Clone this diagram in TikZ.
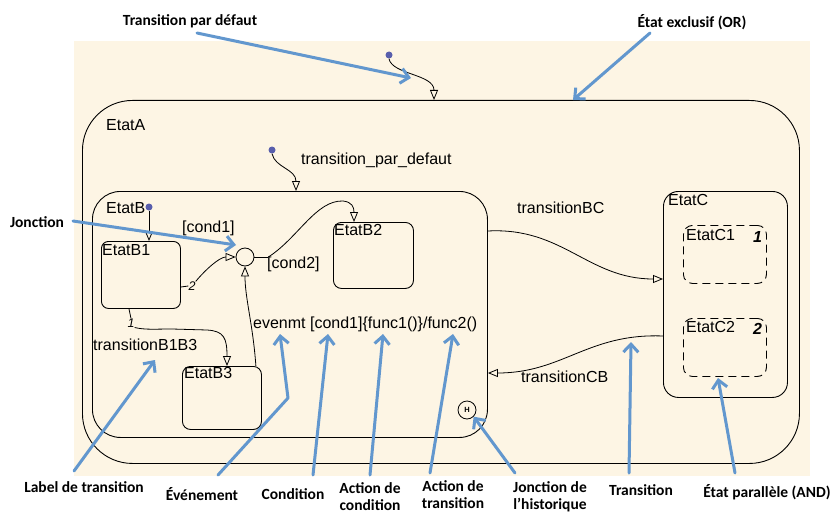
\documentclass[tikz,border=0pt]{standalone}
\usepackage{fontspec}
\setmainfont{Liberation Sans}
\newfontfamily\callout{Carlito}
\usetikzlibrary{arrows.meta,calc}
\definecolor{cream}{RGB}{253,245,228}
\definecolor{notec}{RGB}{98,151,206}
\definecolor{dotc}{RGB}{88,94,172}
\tikzset{
  stbox/.style={draw=black, line width=0.9pt, inner sep=0pt, anchor=north west},
  subbox/.style={stbox, dash pattern=on 8pt off 5pt},
  stname/.style={inner sep=0pt, anchor=base west, font=\fontsize{16}{19}\selectfont},
  prio/.style={inner sep=0pt, font=\fontsize{12.5}{15}\selectfont\itshape},
  regionno/.style={inner sep=0pt, anchor=base west, font=\fontsize{16}{19}\selectfont\bfseries\itshape},
  initdot/.style={circle, fill=dotc, inner sep=0pt, minimum size=7pt},
  tr/.style={draw=black, line width=0.8pt, -{Triangle[open, length=10pt, width=8pt]}},
  pline/.style={draw=black, line width=0.8pt},
  callarrow/.style={draw=notec, line width=3pt, line cap=round, line join=round,
    -{Straight Barb[length=8pt, width=15pt]}},
  notelbl/.style={inner sep=0pt, align=center,
    font=\fontsize{15.5}{17}\selectfont\callout\bfseries},
}
\begin{document}
\begin{tikzpicture}[x=1pt, y=-1pt]
\useasboundingbox (0,0) rectangle (834,516);
\fill[cream] (74,41) rectangle (810,476);

% states
\node[stbox, rounded corners=50pt, minimum width=717pt, minimum height=363pt] (eA) at (82,100) {};
\node[stbox, rounded corners=28pt, minimum width=395pt, minimum height=246pt] (eB) at (92,191) {};
\node[stbox, rounded corners=7pt, minimum width=79pt, minimum height=67pt] (eB1) at (101,241) {};
\node[stbox, rounded corners=8pt, minimum width=80pt, minimum height=66pt] (eB2) at (333,222) {};
\node[stbox, rounded corners=8pt, minimum width=79pt, minimum height=63pt] (eB3) at (182,366) {};
\node[stbox, rounded corners=15pt, minimum width=124pt, minimum height=206pt] (eC) at (663,191) {};
\node[subbox, rounded corners=9pt, minimum width=83pt, minimum height=58pt] (eC1) at (683,225) {};
\node[subbox, rounded corners=9pt, minimum width=83pt, minimum height=58pt] (eC2) at (683,318) {};
\node[circle, draw=black, line width=0.8pt, minimum size=18pt, inner sep=0pt] (jn) at (245,257) {};
\node[circle, draw=black, line width=0.8pt, minimum size=18pt, inner sep=0pt,
      font=\fontsize{7.5}{9}\selectfont\bfseries] (hist) at (467,410) {H};

% state names and labels
\node[stname] (tA) at (106,130) {EtatA};
\node[stname] (tB) at (106,213) {EtatB};
\node[stname] (tB1) at (102,255) {EtatB1};
\node[stname] (tB2) at (334,235) {EtatB2};
\node[stname] (tB3) at (184,378) {EtatB3};
\node[stname] (tC) at (668,205) {EtatC};
\node[stname] (tC1) at (686,240) {EtatC1};
\node[stname] (tC2) at (686,332) {EtatC2};
\node[regionno] (oC1) at (753,242) {1};
\node[regionno] (oC2) at (753,334) {2};
\node[stname] (tdef) at (301,164) {transition\_par\_defaut};
\node[stname] (tc1) at (182,232) {[cond1]};
\node[stname] (tc2) at (267,268) {[cond2]};
\node[stname] (tev) at (253,328) {evenmt [cond1]\{func1()\}/func2()};
\node[stname] (tb13) at (93,350) {transitionB1B3};
\node[stname] (tbc) at (517,213) {transitionBC};
\node[stname] (tcb) at (521,382) {transitionCB};

% default transitions
\node[initdot] (d0) at (389,55) {};
\node[initdot] (d1) at (272,150) {};
\node[initdot] (d2) at (149,207) {};
\draw[tr] (d0.south) .. controls +(3,16) and +(0,-26) .. ($(eA.north west)+(352,0)$);
\draw[tr] (d1.south) .. controls +(3,14) and +(0,-22) .. ($(eB.north west)+(204,0)$);
\draw[tr] (d2.south) -- (d2 |- eB1.north);

% transitions inside EtatB
\node[prio] (p2) at (192,286) {2};
\node[prio] (p1) at (131,323) {1};
\draw[pline] ($(eB1.north east)+(0,46)$) -- (p2.west);
\draw[tr] (p2.north east) .. controls +(10,-12) and +(-16,0) .. (jn.west);
\draw[pline] (jn.east) -- ++(14,0);
\draw[tr] ($(jn.east)+(14,0)$) .. controls (298,238) and (316,200) .. (343,201)
  .. controls (352,202) and (354,207) .. ($(eB2.north west)+(21,0)$);
\draw[tr] ($(eB3.north east)+(-6,0)$) .. controls +(-3,-42) and +(0,32) .. (jn.south);
\draw[pline] ($(eB1.south west)+(28,0)$) -- (p1.north);
\draw[tr] (p1.south east) .. controls (145,330) and (155,329) .. (172,329)
  -- (207,330) .. controls (224,331) and (227,338) .. ($(eB3.north west)+(45,0)$);

% transitions between EtatB and EtatC
\draw[tr] ($(eB.north east)+(0,40)$) .. controls +(75,-4) and +(-75,0) .. ($(eC.north west)+(0,88)$);
\draw[tr] ($(eC.north west)+(0,145)$) .. controls +(-75,-3) and +(75,0) .. ($(eB.north east)+(0,182)$);

% callouts
\node[notelbl] (nTpd) at (190,21) {Transition par défaut};
\node[notelbl] (nOr) at (692,22) {État exclusif (OR)};
\node[notelbl] (nJn) at (37,222) {Jonction};
\node[notelbl] (nLab) at (84,487) {Label de transition};
\node[notelbl] (nEv) at (202,494) {Événement};
\node[notelbl] (nCond) at (293,494) {Condition};
\node[notelbl] (nAc) at (370,497) {Action de\\condition};
\node[notelbl] (nAt) at (453,495) {Action de\\transition};
\node[notelbl] (nHist) at (550,497) {Jonction de\\l’historique};
\node[notelbl] (nTr) at (641,490) {Transition};
\node[notelbl] (nPar) at (767,492) {État parallèle (AND)};

\coordinate (kTpd) at (197,33);
\coordinate (kOr) at (650,33);
\coordinate (kJn) at (73,221);
\coordinate (kLab) at (74,471);
\coordinate (kEv) at (218,475);
\coordinate (kCond) at (313,475);
\coordinate (kAc) at (370,475);
\coordinate (kAt) at (430,473);
\coordinate (kHist) at (515,473);
\coordinate (kTr) at (629,473);
\coordinate (kPar) at (735,473);

\draw[callarrow] (kTpd) -- (411,78);
\draw[callarrow] (kOr) -- (573,100);
\draw[callarrow] (kJn) -- (236,245);
\draw[callarrow] (kLab) -- (155,360);
\draw[callarrow] (kEv) -- (288,398) -- (280,334);
\draw[callarrow] (kCond) -- (328,334);
\draw[callarrow] (kAc) -- (383,334);
\draw[callarrow] (kAt) -- (453,334);
\draw[callarrow] (kHist) -- (hist.south east);
\draw[callarrow] (kTr) -- (631,342);
\draw[callarrow] (kPar) -- (718,378);
\end{tikzpicture}
\end{document}
